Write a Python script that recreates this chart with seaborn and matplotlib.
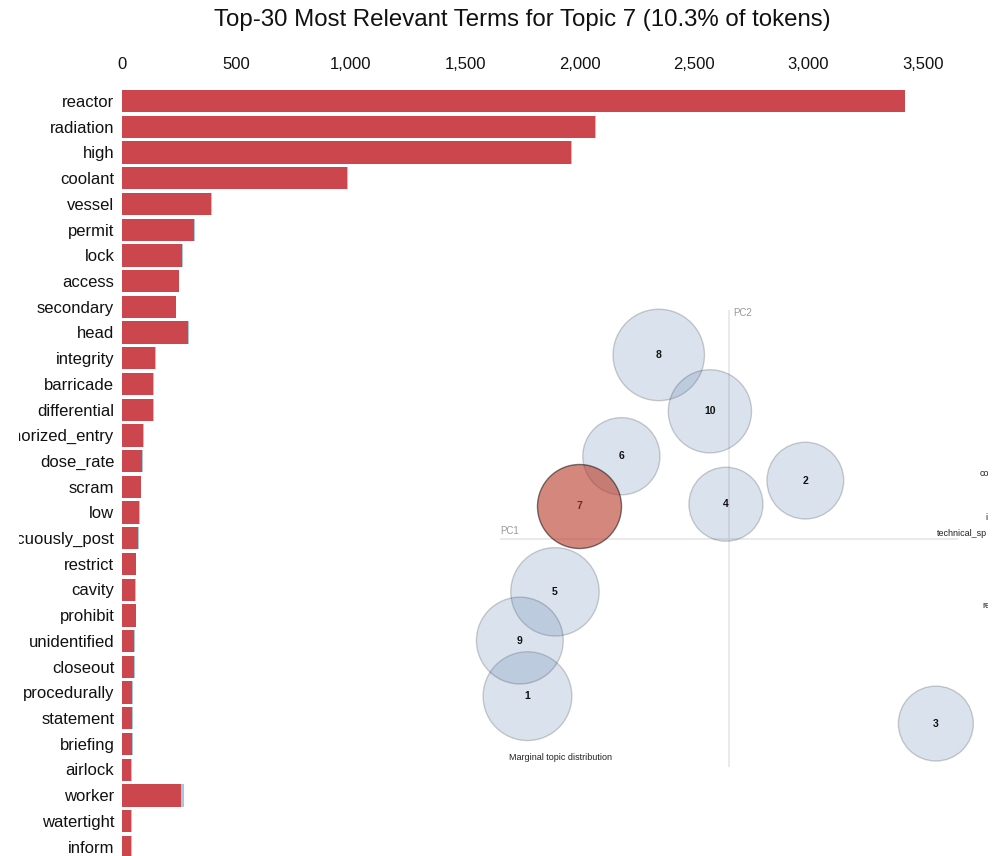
import numpy as np
import pandas as pd
import matplotlib
matplotlib.use("Agg")
import matplotlib.pyplot as plt
import matplotlib.transforms as mtransforms
import seaborn as sns

# ---- term relevance data for topic 7 ----
terms = ["reactor", "radiation", "high", "coolant", "vessel", "permit", "lock",
         "access", "secondary", "head", "integrity", "barricade", "differential",
         "unauthorized_entry", "dose_rate", "scram", "low", "conspicuously_post",
         "restrict", "cavity", "prohibit", "unidentified", "closeout",
         "procedurally", "statement", "briefing", "airlock", "worker",
         "watertight", "inform"]
topic_freq = [3420, 2066, 1961, 986, 390, 315, 264, 248, 235, 288, 146, 135,
              136, 91, 88, 82, 75, 69, 60, 59, 60, 55, 52, 46, 45, 44, 40, 257,
              41, 40]
overall_freq = [3424, 2070, 1965, 990, 394, 319, 268, 252, 239, 292, 150, 139,
                140, 95, 92, 86, 79, 73, 64, 63, 64, 59, 56, 50, 49, 48, 44, 273,
                45, 44]
freq_ticks = [0, 500, 1000, 1500, 2000, 2500, 3000, 3500]

# ---- intertopic distance map ----
topic_ids = [1, 2, 3, 4, 5, 6, 7, 8, 9, 10]
topic_pct = [11.5, 8.6, 8.2, 8.0, 11.4, 8.7, 10.3, 12.2, 11.0, 10.1]
pc1 = [-0.264, 0.100, 0.271, -0.004, -0.228, -0.141, -0.196, -0.092, -0.274, -0.025]
pc2 = [-0.207, 0.076, -0.243, 0.045, -0.070, 0.108, 0.043, 0.241, -0.134, 0.167]
selected_topic = 7

W, H = 996, 856
sns.set_theme(style="white")
plt.rcParams["font.family"] = ["Liberation Sans", "DejaVu Sans"]

fig = plt.figure(figsize=(W / 100, H / 100), dpi=100)


def px_axes(left, top, right, bottom):
    return fig.add_axes([left / W, (H - bottom) / H, (right - left) / W, (bottom - top) / H])


# the drawing area: labels are clipped at its left and right borders
view_clip = mtransforms.Bbox([[19, 0], [988, H]])

# ---------------- bar chart ----------------
bar_left, bar_top, bar_right, bar_bottom = 121.8, 80, 988, 856
ax = px_axes(bar_left, bar_top, bar_right, bar_bottom)
ax.set_facecolor("none")
df = pd.DataFrame({"term": terms, "topic": topic_freq, "overall": overall_freq})

sns.barplot(data=df, y="term", x="overall", color="#1f77b4", alpha=0.4,
            saturation=1, width=0.867, linewidth=0, ax=ax, orient="h")
sns.barplot(data=df, y="term", x="topic", color="#d62728", alpha=0.8,
            saturation=1, width=0.867, linewidth=0, ax=ax, orient="h")

scale = 0.22886  # pixels per frequency unit
ax_w = bar_right - bar_left
ax.set_xlim(0, ax_w / scale)
row_px = 25.71
first_row_px = 101.2
ax.set_ylim((bar_bottom - first_row_px) / row_px, (bar_top - first_row_px) / row_px)
ax.xaxis.tick_top()
ax.set_xticks(freq_ticks)
ax.set_xticklabels([f"{t:,}" for t in freq_ticks], fontsize=12, color="#111111")
ax.tick_params(axis="x", length=0, pad=5.5)
ax.set_yticks([])
ax.set_xlabel("")
ax.set_ylabel("")
for s in ax.spines.values():
    s.set_visible(False)
ax.grid(False)

# term labels, right-aligned against the bars
lab_tr = mtransforms.blended_transform_factory(ax.transAxes, ax.transData)
for i, t in enumerate(terms):
    txt = ax.text(-7.5 / ax_w, i + 1.3 / row_px, t, transform=lab_tr, ha="right",
                  va="center", fontsize=12, color="#111111", clip_on=True)
    txt.set_clip_box(view_clip)

fig.text(522.5 / W, 1 - 20 / H, "Top-30 Most Relevant Terms for Topic 7 (10.3% of tokens)",
         ha="center", va="center", fontsize=17.3, color="#111111")

# ---------------- intertopic distance map ----------------
mds_left, mds_top, mds_right, mds_bottom = 500, 310, 958, 767
bx = px_axes(mds_left, mds_top, mds_right, mds_bottom)
bx.set_facecolor("none")
bx.set_xlim(-0.3, 0.3)
bx.set_ylim(-0.3, 0.3)
bx.axis("off")

bx.axhline(0, color="#e6e6e6", lw=1.2, zorder=1)
bx.axvline(0, color="#e6e6e6", lw=1.2, zorder=1)
bx.text(0.0, 0.5 + 3 / 457, "PC1", transform=bx.transAxes, ha="left", va="bottom",
        fontsize=7, color="#999999")
bx.text(0.5 + 4 / 458, 1.0 - 3 / 457, "PC2", transform=bx.transAxes, ha="left", va="center",
        fontsize=7, color="#999999")

tdf = pd.DataFrame({"topic": topic_ids, "pct": topic_pct, "pc1": pc1, "pc2": pc2})
# circle area proportional to the topic's share of tokens
radius_px = 13.09 * np.sqrt(tdf["pct"].to_numpy())
tdf["s"] = (2 * radius_px * 0.72) ** 2

others = tdf[tdf["topic"] != selected_topic]
chosen = tdf[tdf["topic"] == selected_topic]

sns.scatterplot(data=others, x="pc1", y="pc2", s=others["s"].to_numpy(),
                facecolor=(0.29, 0.435, 0.647, 0.2), edgecolor=(0, 0, 0, 0.18),
                linewidth=1, ax=bx, legend=False, zorder=2, clip_on=False)
for _, r in others.iterrows():
    bx.text(r["pc1"], r["pc2"], str(int(r["topic"])), ha="center", va="center",
            fontsize=7.5, fontweight="bold", color="#111111", zorder=4)

for _, r in chosen.iterrows():
    bx.text(r["pc1"], r["pc2"], str(int(r["topic"])), ha="center", va="center",
            fontsize=7.5, fontweight="bold", color="#111111", zorder=3)
sns.scatterplot(data=chosen, x="pc1", y="pc2", s=chosen["s"].to_numpy(),
                facecolor=(0.72, 0.22, 0.15, 0.6), edgecolor=(0, 0, 0, 0.5),
                linewidth=1, ax=bx, legend=False, zorder=5, clip_on=False)
bx.set_xlabel("")
bx.set_ylabel("")

fig.text(509 / W, 1 - 757 / H, "Marginal topic distribution", ha="left", va="center",
         fontsize=6.5, color="#222222")

# labels running off the right border
for x, y, t in [(980, 474, "co"), (985, 518, "i"), (937, 533, "technical_sp"), (982, 606, "re")]:
    txt = fig.text(x / W, 1 - y / H, t, ha="left", va="center", fontsize=6.5,
                   color="#222222", clip_on=True)
    txt.set_clip_box(view_clip)

fig.savefig("out.png", dpi=100)
